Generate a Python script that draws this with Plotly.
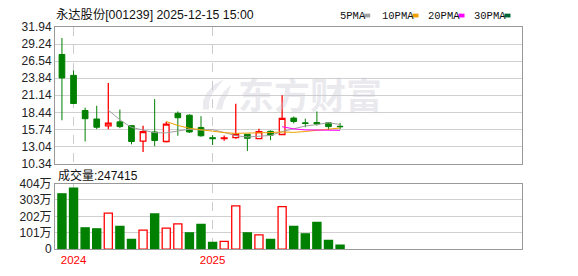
import plotly.graph_objects as go

# ---------------- data ----------------
months = ["2023-12", "2024-01", "2024-02", "2024-03", "2024-04", "2024-05", "2024-06",
          "2024-07", "2024-08", "2024-09", "2024-10", "2024-11", "2024-12",
          "2025-01", "2025-02", "2025-03", "2025-04", "2025-05", "2025-06",
          "2025-07", "2025-08", "2025-09", "2025-10", "2025-11", "2025-12"]
opens = [27.59, 24.29, 18.74, 17.39, 16.29, 16.94, 16.34, 13.89, 15.34, 13.84, 18.29, 17.99, 16.04,
         14.44, 14.29, 14.44, 14.99, 14.29, 15.44, 14.94, 17.54, 16.79, 16.84, 16.79, 16.24]
highs = [30.19, 25.04, 19.19, 19.49, 23.09, 18.89, 16.34, 16.34, 20.54, 16.94, 18.59, 18.14, 17.84,
         14.84, 14.79, 19.79, 14.99, 15.84, 15.59, 21.14, 17.79, 17.44, 18.59, 16.89, 16.79]
lows = [17.19, 19.79, 13.84, 15.79, 15.79, 15.94, 13.39, 12.19, 13.09, 13.69, 14.74, 15.20, 14.59,
        13.29, 13.94, 14.29, 12.34, 14.24, 14.04, 14.90, 16.69, 16.09, 16.34, 15.69, 15.79]
closes = [23.88, 19.84, 17.44, 16.09, 16.74, 16.19, 13.84, 15.39, 13.99, 16.59, 17.59, 15.34, 14.74,
          14.29, 14.39, 14.99, 14.34, 15.39, 14.84, 17.49, 16.99, 16.69, 16.59, 16.19, 16.18]
volumes_wan = [341, 375, 131, 125, 222, 140, 60, 117, 217, 129, 156, 100, 152,
               41, 47, 267, 100, 88, 59, 262, 140, 94, 164, 53, 24.74]

ma5_start = 4
ma5 = [18.80, 17.26, 16.06, 15.65, 15.23, 15.20, 15.48, 15.78, 15.65, 15.71, 15.27, 14.75,
       14.55, 14.68, 14.79, 15.41, 15.81, 16.28, 16.52, 16.79, 16.53]
ma10_start = 9
ma10 = [17.00, 16.37, 15.92, 15.65, 15.47, 15.24, 15.12, 15.17, 15.17, 15.25, 15.34, 15.28,
        15.42, 15.60, 15.79, 15.97]
ma20_start = 19
ma20 = [16.17, 15.83, 15.67, 15.63, 15.63, 15.60]

price_ticks = [10.34, 13.04, 15.74, 18.44, 21.14, 23.84, 26.54, 29.24, 31.94]
price_ticktext = ["10.34", "13.04", "15.74", "18.44", "21.14", "23.84", "26.54", "29.24", "31.94"]
vol_ticks = [0, 101, 202, 303, 404]
vol_ticktext = ["0", "101万", "202万", "303万", "404万"]
year_labels = ["2024", "2025"]
year_months = ["2024-01", "2025-01"]

title_text = "永达股份[001239] 2025-12-15 15:00"
vol_title = "成交量:247415"
watermark = "东方财富"
ma_names = ["5PMA", "10PMA", "20PMA", "30PMA"]
ma_colors = ["#a0a0a0", "#f0a000", "#ff00ff", "#006633"]

# ---------------- figure ----------------
W, H = 578, 276
def px(x):
    return x / W
def py(y):
    return 1 - y / H

RED = "#ff0000"
GREEN = "#008000"
x = list(range(len(months)))
year_pos = [months.index(m) for m in year_months]

fig = go.Figure()
fig.add_trace(go.Candlestick(
    x=x, open=opens, high=highs, low=lows, close=closes,
    increasing=dict(line=dict(color=RED, width=1.3), fillcolor="white"),
    decreasing=dict(line=dict(color=GREEN, width=1), fillcolor=GREEN),
    whiskerwidth=0, xaxis="x", yaxis="y", hoverinfo="skip", showlegend=False,
))
for start, vals, col in [(ma5_start, ma5, ma_colors[0]), (ma10_start, ma10, ma_colors[1]),
                         (ma20_start, ma20, ma_colors[2])]:
    fig.add_trace(go.Scatter(x=x[start:start + len(vals)], y=vals, mode="lines",
                             line=dict(color=col, width=1), xaxis="x", yaxis="y",
                             hoverinfo="skip", showlegend=False))

up = [closes[i] > (closes[i - 1] if i > 0 else opens[i]) for i in range(len(closes))]
fig.add_trace(go.Bar(
    x=x, y=volumes_wan, width=0.7,
    marker=dict(color=["white" if u else GREEN for u in up],
                line=dict(color=[RED if u else GREEN for u in up], width=1.3)),
    xaxis="x2", yaxis="y2", hoverinfo="skip", showlegend=False,
))

xr = [-0.6, 39.7]
xdom = [px(55), px(522)]
axis_common = dict(showline=True, mirror=True, linecolor="#999999", linewidth=1,
                   zeroline=False, ticks="")
fig.update_layout(
    width=W, height=H, margin=dict(l=0, r=0, t=0, b=0),
    paper_bgcolor="white", plot_bgcolor="white",
    font=dict(family="Liberation Sans, Arial, Noto Sans CJK SC", size=12, color="#222222"),
    bargap=0.3,
    xaxis=dict(domain=xdom, range=xr, anchor="y", tickvals=year_pos, showticklabels=False,
               showgrid=True, gridcolor="#cccccc", griddash="dash", gridwidth=1,
               rangeslider=dict(visible=False), **axis_common),
    yaxis=dict(domain=[py(165), py(21)], range=[price_ticks[0], price_ticks[-1]], anchor="x",
               tickvals=price_ticks, ticktext=price_ticktext, showgrid=True,
               gridcolor="#d0d0d0", tickfont=dict(size=12, color="#222222"), **axis_common),
    xaxis2=dict(domain=xdom, range=xr, anchor="y2", tickvals=year_pos, ticktext=year_labels,
                tickfont=dict(size=11.5, color=RED), showgrid=True, gridcolor="#cccccc",
                griddash="dash", gridwidth=1, **axis_common),
    yaxis2=dict(domain=[py(255), py(186)], range=[vol_ticks[0], vol_ticks[-1]], anchor="x2",
                tickvals=vol_ticks, ticktext=vol_ticktext, showgrid=True,
                gridcolor="#d0d0d0", tickfont=dict(size=12, color="#222222"), **axis_common),
)

WM = "rgba(200,200,212,0.38)"
ann = []
# watermark text
ann.append(dict(text="<b>" + watermark + "</b>", x=px(310), y=py(91), xref="paper", yref="paper",
                xanchor="center", yanchor="middle", showarrow=False,
                font=dict(family="Noto Sans CJK SC", size=36, color=WM)))
ann.append(dict(text=title_text, x=px(54), y=py(8), xref="paper", yref="paper",
                xanchor="left", yanchor="middle", showarrow=False,
                font=dict(family="Liberation Sans, Noto Sans CJK SC", size=12.3, color="#111111")))
ann.append(dict(text=vol_title, x=px(56), y=py(177), xref="paper", yref="paper",
                xanchor="left", yanchor="middle", showarrow=False,
                font=dict(family="Liberation Sans, Noto Sans CJK SC", size=12, color="#111111")))
legend_x = [338, 380, 426, 472]
shapes = []
for name, col, lx in zip(ma_names, ma_colors, legend_x):
    ann.append(dict(text=name, x=px(lx), y=py(9), xref="paper", yref="paper",
                    xanchor="left", yanchor="middle", showarrow=False,
                    font=dict(family="Liberation Mono, DejaVu Sans Mono", size=10.5, color="#111111")))
    sx = lx + 6.3 * len(name) + 1
    shapes.append(dict(type="rect", xref="paper", yref="paper", x0=px(sx), x1=px(sx + 6),
                       y0=py(11), y1=py(7), fillcolor=col, line=dict(width=0)))

# watermark swoosh logo (decorative)
def pth(points):
    s = "M %f,%f" % (px(points[0][0]), py(points[0][1]))
    for a in points[1:]:
        s += " L %f,%f" % (px(a[0]), py(a[1]))
    return s + " Z"
swoosh1 = [(224, 76), (214, 82), (207, 90), (203, 99), (203, 108), (209, 108), (209, 100),
           (212, 92), (217, 85)]
swoosh2 = [(231, 82), (224, 89), (219, 97), (216, 108), (222, 108), (224, 99), (228, 92)]
for sw in (swoosh1, swoosh2):
    shapes.append(dict(type="path", xref="paper", yref="paper", path=pth(sw),
                       fillcolor=WM, line=dict(width=0), layer="above"))
fig.update_layout(annotations=ann, shapes=shapes)

fig.write_html("out.html")
